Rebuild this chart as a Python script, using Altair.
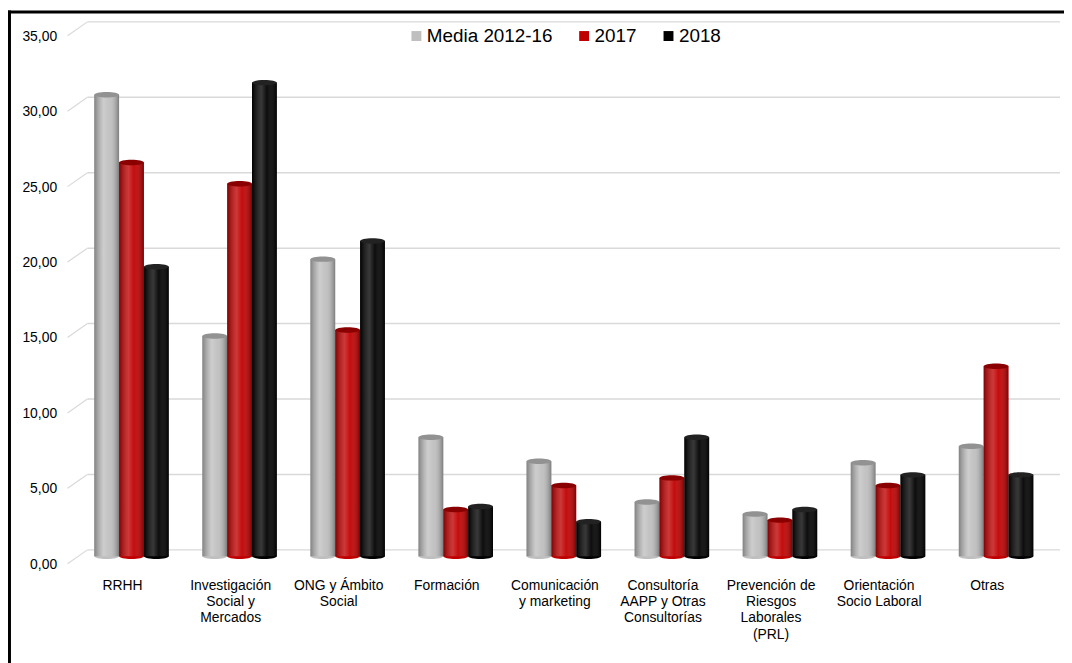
import altair as alt
import pandas as pd

categories = [
    "RRHH",
    "Investigación\nSocial y\nMercados",
    "ONG y Ámbito\nSocial",
    "Formación",
    "Comunicación\ny marketing",
    "Consultoría\nAAPP y Otras\nConsultorías",
    "Prevención de\nRiesgos\nLaborales\n(PRL)",
    "Orientación\nSocio Laboral",
    "Otras",
]
series = ["Media 2012-16", "2017", "2018"]
media = [30.6, 14.6, 19.7, 7.9, 6.3, 3.6, 2.8, 6.2, 7.3]
v2017 = [26.1, 24.7, 15.0, 3.1, 4.7, 5.2, 2.4, 4.7, 12.6]
v2018 = [19.2, 31.4, 20.9, 3.3, 2.3, 7.9, 3.1, 5.4, 5.4]
colors = ["#BFBFBF", "#C00000", "#000000"]
cap_colors = ["#929292", "#8A0000", "#222222"]
ticks = [0, 5, 10, 15, 20, 25, 30, 35]

rows = []
for s, vals in zip(series, [media, v2017, v2018]):
    for c, v in zip(categories, vals):
        rows.append({"cat": c, "series": s, "value": v})
df = pd.DataFrame(rows)
tick_df = pd.DataFrame({"value": ticks})
one = pd.DataFrame({"a": [0]})

FONT = "Liberation Sans"
W, H = 980, 532

x = alt.X(
    "cat:N",
    sort=categories,
    scale=alt.Scale(domain=categories, paddingInner=0.31, paddingOuter=0.155),
    axis=alt.Axis(
        title=None,
        labelExpr="split(datum.label, '\\n')",
        labelAngle=0,
        labelFontSize=14,
        labelFont=FONT,
        labelColor="#000",
        labelPadding=22,
        labelOffset=-9,
        labelLineHeight=16.5,
        domain=False,
        ticks=False,
    ),
)
xo = alt.XOffset("series:N", sort=series, scale=alt.Scale(domain=series, paddingInner=0))
yaxis = alt.Axis(
    title=None,
    values=ticks,
    labelExpr="replace(format(datum.value, '.2f'), '.', ',')",
    grid=False,
    domain=False,
    ticks=False,
    labelFontSize=14,
    labelFont=FONT,
    labelColor="#000",
    labelPadding=21,
    labelOffset=8,
)
y = alt.Y("value:Q", scale=alt.Scale(domain=[0, 35], nice=False), axis=yaxis)
color = alt.Color(
    "series:N",
    sort=series,
    scale=alt.Scale(domain=series, range=colors),
    legend=alt.Legend(
        title=None,
        orient="none",
        legendX=332,
        legendY=-2,
        direction="horizontal",
        symbolType="square",
        symbolSize=100,
        symbolStrokeWidth=0,
        labelFontSize=19,
        labelFont=FONT,
        labelColor="#000",
        labelOffset=1,
        columnPadding=22,
    ),
)

grid = alt.Chart(tick_df).mark_rule(color="#d9d9d9", strokeWidth=1.5, yOffset=-6.5).encode(
    y=y, x=alt.value(10), x2=alt.value(990)
)
diag = alt.Chart(tick_df).mark_rule(
    color="#d9d9d9", strokeWidth=1.2, yOffset=7.5, y2Offset=-6.5
).encode(y=y, y2="value:Q", x=alt.value(-10), x2=alt.value(10))

ellipse = "M -1 0 A 1 0.22 0 1 1 1 0 A 1 0.22 0 1 1 -1 0 Z"

bottoms = alt.Chart(df).mark_point(shape=ellipse, filled=True, size=625, opacity=1).encode(
    x=x, xOffset=xo, y=alt.datum(0), color=color
)
bars = alt.Chart(df).mark_bar().encode(x=x, xOffset=xo, y=y, color=color)

shade_grad = alt.LinearGradient(
    gradient="linear",
    x1=0, x2=1, y1=0, y2=0,
    stops=[
        alt.GradientStop(color="rgba(0,0,0,0.32)", offset=0),
        alt.GradientStop(color="rgba(255,255,255,0.22)", offset=0.38),
        alt.GradientStop(color="rgba(255,255,255,0.05)", offset=0.6),
        alt.GradientStop(color="rgba(0,0,0,0.35)", offset=1),
    ],
)
shade = alt.Chart(df).mark_bar(fill=shade_grad).encode(x=x, xOffset=xo, y=y)

caps = alt.Chart(df).mark_point(shape=ellipse, filled=True, size=625, opacity=1).encode(
    x=x,
    xOffset=xo,
    y=y,
    fill=alt.Fill("series:N", scale=alt.Scale(domain=series, range=cap_colors), legend=None),
)

frame_top = alt.Chart(one).mark_rule(color="#000", strokeWidth=3).encode(
    x=alt.value(-70), x2=alt.value(994), y=alt.value(-16.5)
)
frame_left = alt.Chart(one).mark_rule(color="#000", strokeWidth=3).encode(
    x=alt.value(-68.5), y=alt.value(-18), y2=alt.value(640)
)

chart = (
    alt.layer(grid, diag, bottoms, bars, shade, caps, frame_top, frame_left)
    .properties(
        width=W,
        height=H,
        autosize=alt.AutoSizeParams(type="none"),
        padding={"left": 70, "top": 18, "right": 14, "bottom": 105},
        background="white",
    )
    .configure_view(stroke=None)
)

chart.save("out.html", embed_options={"renderer": "svg", "actions": False})
